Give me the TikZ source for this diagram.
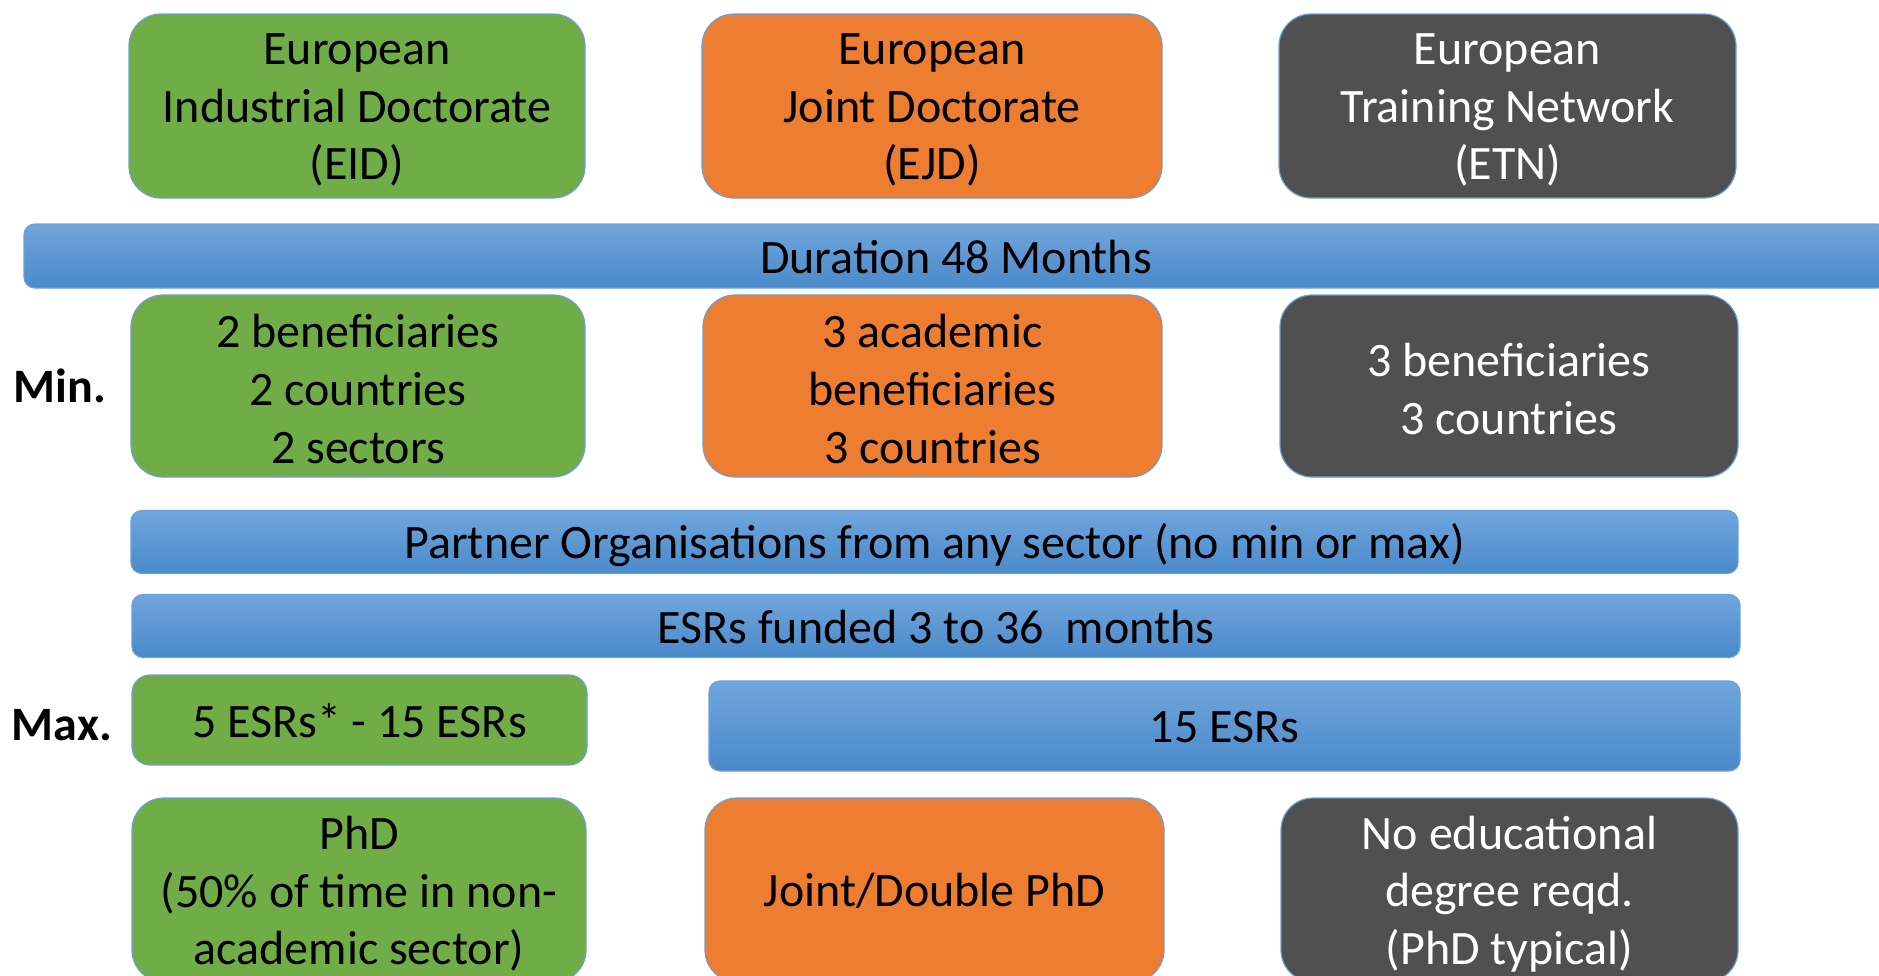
\documentclass[tikz,border=0pt]{standalone}
\usepackage{fontspec}
\setmainfont{Carlito}
\definecolor{eidgreen}{HTML}{70AD47}
\definecolor{ejdorange}{HTML}{ED7D31}
\definecolor{etngray}{HTML}{505050}
\definecolor{blueTop}{HTML}{70A6DC}
\definecolor{blueMid}{HTML}{5B9BD8}
\definecolor{blueBot}{HTML}{4A89CA}
\definecolor{edgeblue}{HTML}{6A9FD8}
\tikzset{
  base/.style={draw=edgeblue, line width=1.2pt, inner sep=0pt},
  bigbox/.style={base, rounded corners=32pt},
  greenbox/.style={bigbox, fill=eidgreen},
  orangebox/.style={bigbox, fill=ejdorange},
  graybox/.style={bigbox, fill=etngray},
  bar/.style={base, rounded corners=11pt, top color=blueTop, middle color=blueMid, bottom color=blueBot},
  txt/.style={align=center, inner sep=0pt, text=black, font=\fontsize{48}{57.6}\selectfont},
  wtxt/.style={txt, text=white},
  rowlabel/.style={font=\fontsize{48}{57.6}\selectfont\bfseries, inner sep=0pt}
}
\begin{document}
\begin{tikzpicture}[x=1pt,y=-1pt]
\useasboundingbox (0,0) rectangle (1879,975);
\clip (0,0) rectangle (1879,975);
% top row
\node[greenbox, minimum width=456pt, minimum height=184pt] (eid) at (357,106) {};
\node[txt] (eidt) at ([yshift=-4pt]eid.center) {European\\Industrial Doctorate\\(EID)};
\node[orangebox, minimum width=460pt, minimum height=184pt] (ejd) at (932,106) {};
\node[txt] (ejdt) at ([yshift=-4pt]ejd.center) {European\\Joint Doctorate\\(EJD)};
\node[graybox, minimum width=457pt, minimum height=184pt] (etn) at (1507.5,106) {};
\node[wtxt] (etnt) at ([yshift=-4pt]etn.center) {European\\Training Network\\(ETN)};
% duration
\node[bar, minimum width=1864pt, minimum height=64pt] (dur) at (956,256) {};
\node[txt] (durt) at ([yshift=-1pt]dur.center) {Duration 48 Months};
% min row
\node[rowlabel] (min) at (60,386) {Min.};
\node[greenbox, minimum width=454pt, minimum height=182pt] (eidmin) at (358,386) {};
\node[txt] (eidmint) at ([yshift=-3pt]eidmin.center) {2 beneficiaries\\2 countries\\2 sectors};
\node[orangebox, minimum width=459pt, minimum height=182pt] (ejdmin) at (932.5,386) {};
\node[txt] (ejdmint) at ([yshift=-3pt]ejdmin.center) {3 academic\\beneficiaries\\3 countries};
\node[graybox, minimum width=458pt, minimum height=182pt] (etnmin) at (1509,386) {};
\node[wtxt] (etnmint) at ([yshift=-3pt]etnmin.center) {3 beneficiaries\\3 countries};
% partner & funded bars
\node[bar, minimum width=1607pt, minimum height=63pt] (partner) at (934.5,542) {};
\node[txt] (partnert) at ([yshift=-3.5pt]partner.center) {Partner Organisations from any sector (no min or max)};
\node[bar, minimum width=1608pt, minimum height=63pt] (funded) at (936,626) {};
\node[txt] (fundedt) at ([yshift=-1pt]funded.center) {ESRs funded 3 to 36\ \ months};
% max row
\node[rowlabel] (max) at (62,725) {Max.};
\node[greenbox, rounded corners=18pt, minimum width=455pt, minimum height=90pt] (eidmax) at (359.5,720) {};
\node[txt] (eidmaxt) at ([yshift=-1pt]eidmax.center) {5 ESRs* - 15 ESRs};
\node[bar, minimum width=1031pt, minimum height=90pt] (esr15) at (1224.5,726) {};
\node[txt] (esr15t) at ([yshift=-1pt]esr15.center) {15 ESRs};
% bottom row
\node[greenbox, minimum width=454pt, minimum height=184pt] (eidphd) at (359,890) {};
\node[txt] (eidphdt) at ([yshift=-4pt]eidphd.center) {PhD\\(50\% of time in non-\\academic sector)};
\node[orangebox, minimum width=459pt, minimum height=184pt] (ejdphd) at (934.5,890) {};
\node[txt] (ejdphdt) at ([yshift=-1pt]ejdphd.center) {Joint/Double PhD};
\node[graybox, minimum width=457pt, minimum height=184pt] (etnphd) at (1509.5,890) {};
\node[wtxt] (etnphdt) at ([yshift=-4pt]etnphd.center) {No educational\\degree reqd.\\(PhD typical)};
\end{tikzpicture}
\end{document}
